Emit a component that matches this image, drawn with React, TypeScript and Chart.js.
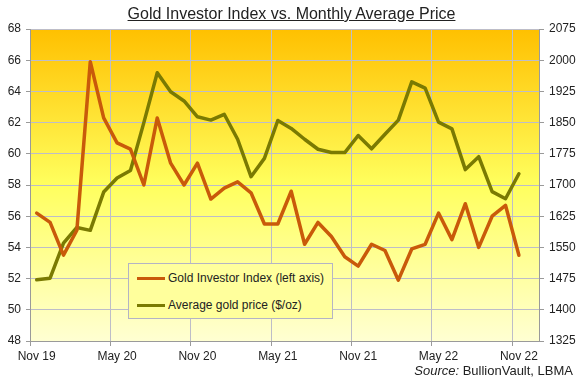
import React, { useEffect, useRef } from 'react';
import { Chart, registerables } from 'chart.js';

Chart.register(...registerables);

const months = [
  'Nov 19', 'Dec 19',
  'Jan 20', 'Feb 20', 'Mar 20', 'Apr 20', 'May 20', 'Jun 20', 'Jul 20', 'Aug 20', 'Sep 20', 'Oct 20', 'Nov 20', 'Dec 20',
  'Jan 21', 'Feb 21', 'Mar 21', 'Apr 21', 'May 21', 'Jun 21', 'Jul 21', 'Aug 21', 'Sep 21', 'Oct 21', 'Nov 21', 'Dec 21',
  'Jan 22', 'Feb 22', 'Mar 22', 'Apr 22', 'May 22', 'Jun 22', 'Jul 22', 'Aug 22', 'Sep 22', 'Oct 22', 'Nov 22', 'Dec 22',
];

const investorIndex = [
  56.2, 55.6, 53.5, 55.1, 65.9, 62.3, 60.7, 60.3, 58.0, 62.3, 59.4, 58.0, 59.4,
  57.1, 57.8, 58.2, 57.5, 55.5, 55.5, 57.6, 54.2, 55.6, 54.7, 53.4, 52.8,
  54.2, 53.8, 51.9, 53.9, 54.2, 56.2, 54.5, 56.8, 54.0, 56.0, 56.7, 53.5,
];

const goldPrice = [
  1472, 1476, 1560, 1598, 1591, 1683, 1717, 1735, 1850, 1970, 1924, 1902, 1864,
  1856, 1870, 1810, 1720, 1764, 1855, 1836, 1810, 1786, 1778, 1778, 1819,
  1787, 1822, 1856, 1948, 1933, 1851, 1835, 1737, 1768, 1684, 1667, 1727,
];

const leftTicks = { min: 48, max: 68, step: 2 };
const rightTicks = { min: 1325, max: 2075, step: 75 };

const TITLE = 'Gold Investor Index vs. Monthly Average Price';
const SERIES_1 = 'Gold Investor Index (left axis)';
const SERIES_2 = 'Average gold price ($/oz)';

const ORANGE = '#C95A0A';
const OLIVE = '#7A7A02';
const GRID = '#BDBDC8';
const AXIS = '#9A9A9A';
const TEXT = '#222222';
const FONT = "'Liberation Sans', Arial, sans-serif";

const bgPlugin = {
  id: 'plotBg',
  beforeDraw(chart: any) {
    const { ctx, chartArea: a, width, height } = chart;
    ctx.save();
    ctx.fillStyle = '#ffffff';
    ctx.fillRect(0, 0, width, height);
    const g = ctx.createLinearGradient(0, a.top, 0, a.bottom);
    g.addColorStop(0, '#FFC000');
    g.addColorStop(0.5, '#FFFF5E');
    g.addColorStop(1, '#FFFFD2');
    ctx.fillStyle = g;
    ctx.fillRect(a.left, a.top, a.right - a.left, a.bottom - a.top);
    ctx.restore();
  },
};

export default function App() {
  const ref = useRef<HTMLCanvasElement | null>(null);

  useEffect(() => {
    if (!ref.current) return;
    const tickFont = { family: FONT, size: 12 };
    const chart = new Chart(ref.current, {
      type: 'line',
      data: {
        labels: months,
        datasets: [
          {
            label: SERIES_1,
            data: investorIndex,
            yAxisID: 'y',
            borderColor: ORANGE,
            backgroundColor: ORANGE,
            borderWidth: 3.5,
            pointRadius: 0,
            tension: 0,
            borderJoinStyle: 'round',
            borderCapStyle: 'round',
          },
          {
            label: SERIES_2,
            data: goldPrice,
            yAxisID: 'y1',
            borderColor: OLIVE,
            backgroundColor: OLIVE,
            borderWidth: 3.5,
            pointRadius: 0,
            tension: 0,
            borderJoinStyle: 'round',
            borderCapStyle: 'round',
          },
        ],
      },
      options: {
        responsive: false,
        animation: false,
        layout: { padding: { top: 29, left: 0, right: 0, bottom: 0 } },
        plugins: {
          legend: { display: false },
          tooltip: { enabled: false },
          title: { display: false },
        },
        scales: {
          x: {
            type: 'category',
            offset: true,
            grid: {
              offset: true,
              color: (c: any) => (c.index % 6 === 0 && c.index > 0 ? GRID : 'rgba(0,0,0,0)'),
              tickColor: (c: any) => (c.index % 6 === 0 ? AXIS : 'rgba(0,0,0,0)'),
              tickLength: 5,
              drawTicks: true,
            },
            border: { color: AXIS, width: 1 },
            ticks: {
              autoSkip: false,
              maxRotation: 0,
              minRotation: 0,
              padding: 3,
              color: TEXT,
              font: tickFont,
              callback: (_v: any, i: number) => (i % 6 === 0 ? months[i] : ''),
            },
            afterFit: (s: any) => {
              s.height = 40;
            },
          },
          y: {
            type: 'linear',
            position: 'left',
            min: leftTicks.min,
            max: leftTicks.max,
            ticks: {
              stepSize: leftTicks.step,
              padding: 5,
              color: TEXT,
              font: tickFont,
              callback: (v: any) => String(v),
            },
            grid: { color: GRID, tickColor: AXIS, tickLength: 4 },
            border: { color: AXIS, width: 1 },
            afterFit: (s: any) => {
              s.width = 30;
            },
          },
          y1: {
            type: 'linear',
            position: 'right',
            min: rightTicks.min,
            max: rightTicks.max,
            ticks: {
              stepSize: rightTicks.step,
              padding: 5,
              color: TEXT,
              font: tickFont,
              callback: (v: any) => String(v),
            },
            grid: { drawOnChartArea: false, tickColor: AXIS, tickLength: 5 },
            border: { color: AXIS, width: 1 },
            afterFit: (s: any) => {
              s.width = 39;
            },
          },
        },
      },
      plugins: [bgPlugin],
    } as any);
    return () => chart.destroy();
  }, []);

  return (
    <div style={{ position: 'absolute', left: 0, top: 0, width: 578, height: 381, fontFamily: FONT, color: TEXT }}>
      <canvas ref={ref} width={578} height={381} style={{ width: 578, height: 381, display: 'block' }} />
      <div
        style={{
          position: 'absolute',
          left: 0,
          width: 583,
          top: 5,
          textAlign: 'center',
          fontSize: 16,
          lineHeight: '18px',
          textDecoration: 'underline',
          whiteSpace: 'nowrap',
        }}
      >
        {TITLE}
      </div>
      <div
        style={{
          position: 'absolute',
          left: 128,
          top: 263,
          width: 203,
          height: 54,
          background: '#FFFF9C',
          border: '1px solid #B4B4C4',
          fontSize: 12,
        }}
      >
        {[
          { label: SERIES_1, color: ORANGE, top: 14 },
          { label: SERIES_2, color: OLIVE, top: 41 },
        ].map((it) => (
          <div key={it.label} style={{ position: 'absolute', left: 8, top: it.top - 8, height: 16, display: 'flex', alignItems: 'center', whiteSpace: 'nowrap' }}>
            <span style={{ display: 'inline-block', width: 28, height: 3, background: it.color, marginRight: 3 }} />
            <span>{it.label}</span>
          </div>
        ))}
      </div>
      <div
        style={{
          position: 'absolute',
          right: 5,
          top: 363,
          fontSize: 13,
          lineHeight: '16px',
          whiteSpace: 'nowrap',
        }}
      >
        <i>Source:</i> BullionVault, LBMA
      </div>
    </div>
  );
}
